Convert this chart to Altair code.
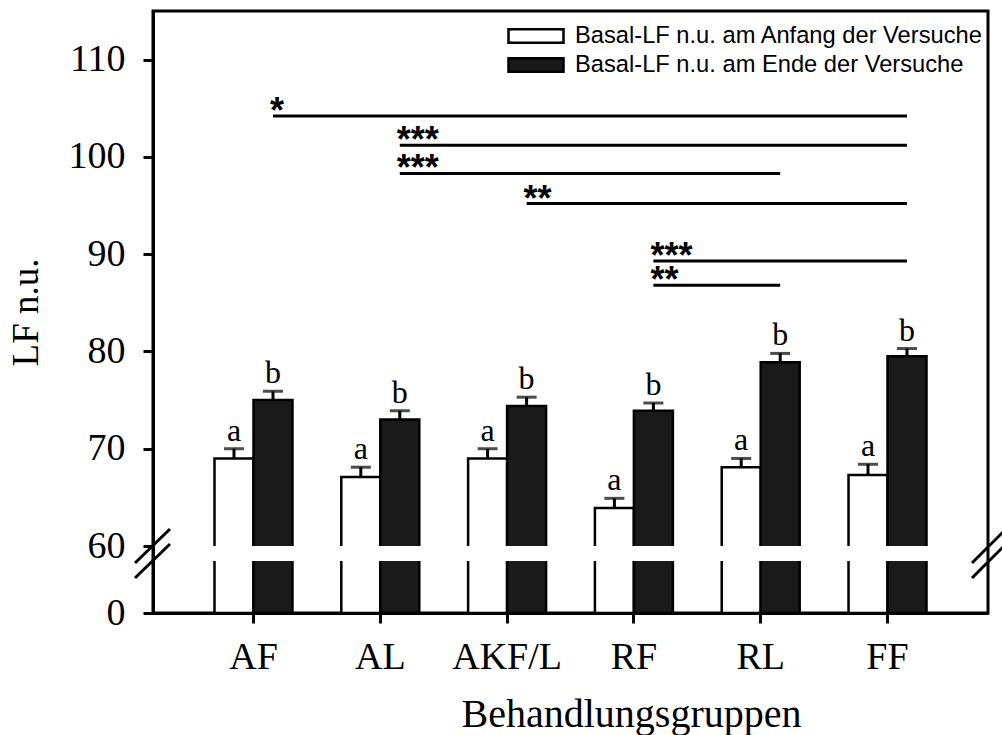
import altair as alt
import pandas as pd

# Treatment groups and the two measurement times
groups = ["AF", "AL", "AKF/L", "RF", "RL", "FF"]
series = [
    "Basal-LF n.u. am Anfang der Versuche",
    "Basal-LF n.u. am Ende der Versuche",
]

# Means and standard errors (LF n.u.)
start_mean = [69.0, 67.1, 69.0, 63.9, 68.1, 67.3]
start_se = [1.0, 1.0, 1.0, 1.0, 0.9, 1.1]
end_mean = [75.0, 73.0, 74.4, 73.9, 78.9, 79.5]
end_se = [0.9, 0.9, 0.9, 0.8, 0.9, 0.8]
start_letters = ["a", "a", "a", "a", "a", "a"]
end_letters = ["b", "b", "b", "b", "b", "b"]

# Pairwise comparisons of the end values
sig_from = ["AF", "AL", "AL", "AKF/L", "RF", "RF"]
sig_to = ["FF", "FF", "RL", "FF", "FF", "RL"]
sig_level = [104.2, 101.2, 98.3, 95.2, 89.3, 86.8]
sig_stars = ["*", "***", "***", "**", "***", "**"]

# Broken axis: 10..60 is squeezed into a narrow gap
break_low, break_high = 10, 60
y_ticks = [0, 60, 70, 80, 90, 100, 110]

W, H = 835, 602
SERIF = "Liberation Serif"
SANS = "Liberation Sans"
INK = "#1a1a1a"

rows = []
for i, g in enumerate(groups):
    rows.append(dict(group=g, series=series[0], mean=start_mean[i], se=start_se[i],
                     top=start_mean[i] + start_se[i], letter=start_letters[i]))
    rows.append(dict(group=g, series=series[1], mean=end_mean[i], se=end_se[i],
                     top=end_mean[i] + end_se[i], letter=end_letters[i]))
bars = pd.DataFrame(rows)
gaps = pd.DataFrame({"group": groups})
sig = pd.DataFrame({"from": sig_from, "to": sig_to, "level": sig_level, "stars": sig_stars})
breaks = pd.DataFrame({"b": [break_low, break_high]})

y_scale = alt.Scale(domain=[0, break_low, break_high, 115],
                    range=[H, H - 52, H - 67, 0], nice=False, zero=False)
x_scale = alt.Scale(domain=groups, paddingInner=0.385, paddingOuter=0.485)
off_scale = alt.Scale(domain=series, paddingInner=0, paddingOuter=0)

x_axis = alt.Axis(
    labelAngle=0, labelFont=SERIF, labelFontSize=38, labelColor="black",
    labelPadding=15, tickSize=10, tickWidth=3, tickColor="black",
    domainColor="black", domainWidth=3, grid=False,
    title="Behandlungsgruppen", titleFont=SERIF, titleFontSize=40,
    titleFontWeight="normal", titleColor="black",
    titleX=478, titleY=113, titleBaseline="alphabetic", titleAlign="center",
    zindex=1,
)
y_axis = alt.Axis(
    values=y_ticks, labelFont=SERIF, labelFontSize=38, labelColor="black",
    labelPadding=18, tickSize=10, tickWidth=3, tickColor="black",
    domainColor="black", domainWidth=3, grid=False,
    title="LF n.u.", titleFont=SERIF, titleFontSize=37,
    titleFontWeight="normal", titleColor="black",
    titleX=-116, titleY=H / 2, titleAngle=270, titleBaseline="alphabetic",
    titleAlign="center", zindex=1,
)

x_enc = alt.X("group:N", scale=x_scale, axis=x_axis)
off_enc = alt.XOffset("series:N", scale=off_scale)

# wide flat legend swatch (path spans 4x1 of the unit box)
swatch = "M-2,-0.5H2V0.5H-2Z"

bar_layer = alt.Chart(bars).mark_bar(stroke="black", strokeWidth=2.5).encode(
    x=x_enc,
    xOffset=off_enc,
    y=alt.Y("mean:Q", scale=y_scale, axis=y_axis),
    y2=alt.datum(0),
    fill=alt.Fill(
        "series:N",
        scale=alt.Scale(domain=series, range=["white", INK]),
        legend=alt.Legend(
            orient="none", legendX=368, legendY=10, title=None, padding=0,
            symbolType=swatch, symbolSize=756,
            symbolStrokeColor="black", symbolStrokeWidth=2.5,
            labelFont=SANS, labelFontSize=23.7, labelColor="black",
            labelOffset=24, labelLimit=0, rowPadding=2,
        ),
    ),
)

# white band cutting the bars at the axis break
gap_layer = alt.Chart(gaps).mark_bar(
    fill="white", width=alt.RelativeBandSize(1.08)
).encode(
    x=alt.X("group:N", scale=x_scale),
    y=alt.datum(break_low),
    y2=alt.datum(break_high),
)

err_layer = alt.Chart(bars).mark_rule(color="black", strokeWidth=3).encode(
    x=alt.X("group:N", scale=x_scale), xOffset=off_enc,
    y="mean:Q", y2="top:Q",
)
cap_layer = alt.Chart(bars).mark_tick(color="black", size=20, thickness=3,
                                      orient="horizontal").encode(
    x=alt.X("group:N", scale=x_scale), xOffset=off_enc, y="top:Q",
)
letter_layer = alt.Chart(bars).mark_text(
    font=SERIF, fontSize=32, color="black", baseline="alphabetic", dy=-8
).encode(
    x=alt.X("group:N", scale=x_scale), xOffset=off_enc, y="top:Q", text="letter:N",
)

sig_rule = alt.Chart(sig).mark_rule(
    color="black", strokeWidth=3, xOffset=19.5, x2Offset=19.5
).encode(
    x=alt.X("from:N", scale=x_scale), x2="to:N", y="level:Q",
)
sig_text = alt.Chart(sig).mark_text(
    font=SANS, fontSize=36, fontWeight="bold", color="black",
    align="left", baseline="alphabetic", xOffset=19.5, dx=-3, dy=7,
).encode(
    x=alt.X("from:N", scale=x_scale), y="level:Q", text="stars:N",
)

break_left = alt.Chart(breaks).mark_rule(
    color="black", strokeWidth=3, yOffset=17, y2Offset=-17
).encode(y="b:Q", y2="b:Q", x=alt.value(-18), x2=alt.value(17))
break_right = alt.Chart(breaks).mark_rule(
    color="black", strokeWidth=3, yOffset=17, y2Offset=-17
).encode(y="b:Q", y2="b:Q", x=alt.value(W - 16), x2=alt.value(W + 18))

chart = alt.layer(
    bar_layer, gap_layer, err_layer, cap_layer, letter_layer,
    sig_rule, sig_text, break_left, break_right,
).properties(
    width=W, height=H,
    padding={"left": 153, "top": 11, "right": 14, "bottom": 122},
    autosize=alt.AutoSizeParams(type="none"),
    background="white",
).configure_view(
    stroke="black", strokeWidth=3
)

chart.save("out.html", embed_options={"renderer": "svg", "actions": False})
